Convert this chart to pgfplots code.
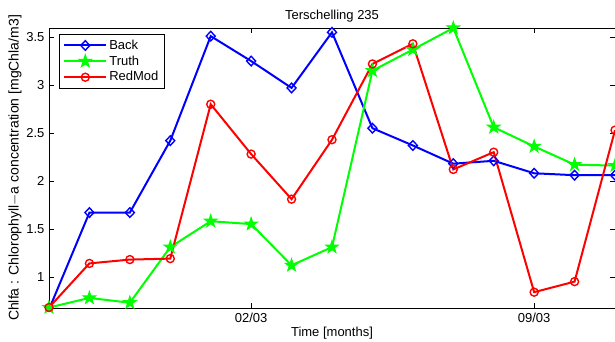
\documentclass[border=0pt]{standalone}
\usepackage{pgfplots}
\pgfplotsset{compat=1.18}
\usepackage{fontspec}
\setmainfont{Liberation Sans}
\usetikzlibrary{plotmarks}
\pgfdeclareplotmark{pstar}{%
  \pgfpathmoveto{\pgfpointpolar{90}{1.3\pgfplotmarksize}}%
  \pgfpathlineto{\pgfpointpolar{126}{0.5\pgfplotmarksize}}%
  \pgfpathlineto{\pgfpointpolar{162}{1.3\pgfplotmarksize}}%
  \pgfpathlineto{\pgfpointpolar{198}{0.5\pgfplotmarksize}}%
  \pgfpathlineto{\pgfpointpolar{234}{1.3\pgfplotmarksize}}%
  \pgfpathlineto{\pgfpointpolar{270}{0.5\pgfplotmarksize}}%
  \pgfpathlineto{\pgfpointpolar{306}{1.3\pgfplotmarksize}}%
  \pgfpathlineto{\pgfpointpolar{342}{0.5\pgfplotmarksize}}%
  \pgfpathlineto{\pgfpointpolar{18}{1.3\pgfplotmarksize}}%
  \pgfpathlineto{\pgfpointpolar{54}{0.5\pgfplotmarksize}}%
  \pgfpathclose
  \pgfusepathqfillstroke}
\begin{document}
\begin{tikzpicture}
\fontsize{13}{15}\selectfont
\begin{axis}[
  at={(0pt,0pt)}, anchor=south west,
  scale only axis, width=566pt, height=280pt,
  xmin=0, xmax=14, ymin=0.675, ymax=3.595,
  xtick={5,12}, xticklabels={02/03,09/03},
  ytick={1,1.5,2,2.5,3,3.5},
  yticklabels={1,1.5,2,2.5,3,3.5},
  tick align=inside, tick pos=both,
  major tick length=5pt,
  tick style={black, line width=0.6pt},
  axis line style={black, line width=0.6pt},
  /pgf/number format/assume math mode=true,
  tick label style={font=\fontsize{13}{15}\selectfont},
  xticklabel style={yshift=-1pt},
  title={Terschelling 235},
  title style={font=\fontsize{13}{15}\selectfont, yshift=-5pt},
  xlabel={Time [months]},
  xlabel style={font=\fontsize{13}{15}\selectfont, yshift=5pt},
  ylabel={Chlfa : Chlorophyll$-$a concentration [mgChla/m3]},
  ylabel style={font=\fontsize{14}{16}\selectfont, yshift=-4pt},
  legend style={at={(0,1)}, anchor=north west, xshift=10pt, yshift=-6pt,
    draw=black, line width=0.6pt, font=\fontsize{13}{15}\selectfont,
    row sep=0.5pt, inner xsep=4pt, inner ysep=3.5pt},
  legend cell align=left,
  legend image code/.code={\draw[#1] (-2pt,0pt) -- (19pt,0pt) plot coordinates {(19pt,0pt)} -- (40pt,0pt);},
  clip=true,
]
\addplot[blue, line width=2pt, mark=diamond, mark size=4.8pt, mark options={solid, line width=1.4pt, fill=white, xscale=1.25}]
coordinates {(0,0.66)(1,1.67)(2,1.67)(3,2.42)(4,3.51)(5,3.25)(6,2.97)(7,3.55)(8,2.55)(9,2.37)(10,2.18)(11,2.21)(12,2.08)(13,2.06)(14,2.06)};
\addlegendentry{Back}
\addplot[green, line width=2pt, mark=pstar, mark size=5pt, mark options={solid, line width=1pt, fill=green}]
coordinates {(0,0.68)(1,0.78)(2,0.73)(3,1.31)(4,1.58)(5,1.55)(6,1.12)(7,1.31)(8,3.15)(9,3.37)(10,3.595)(11,2.56)(12,2.36)(13,2.17)(14,2.16)};
\addlegendentry{Truth}
\addplot[red, line width=2pt, mark=o, mark size=4pt, mark options={solid, line width=1.4pt, fill=white}]
coordinates {(0,0.68)(1,1.14)(2,1.18)(3,1.19)(4,2.80)(5,2.28)(6,1.81)(7,2.43)(8,3.22)(9,3.43)(10,2.12)(11,2.30)(12,0.84)(13,0.95)(14,2.53)};
\addlegendentry{RedMod}
\end{axis}
\pgfresetboundingbox
\useasboundingbox (-49pt,-34pt) rectangle (566pt,308pt);
\end{tikzpicture}
\end{document}
